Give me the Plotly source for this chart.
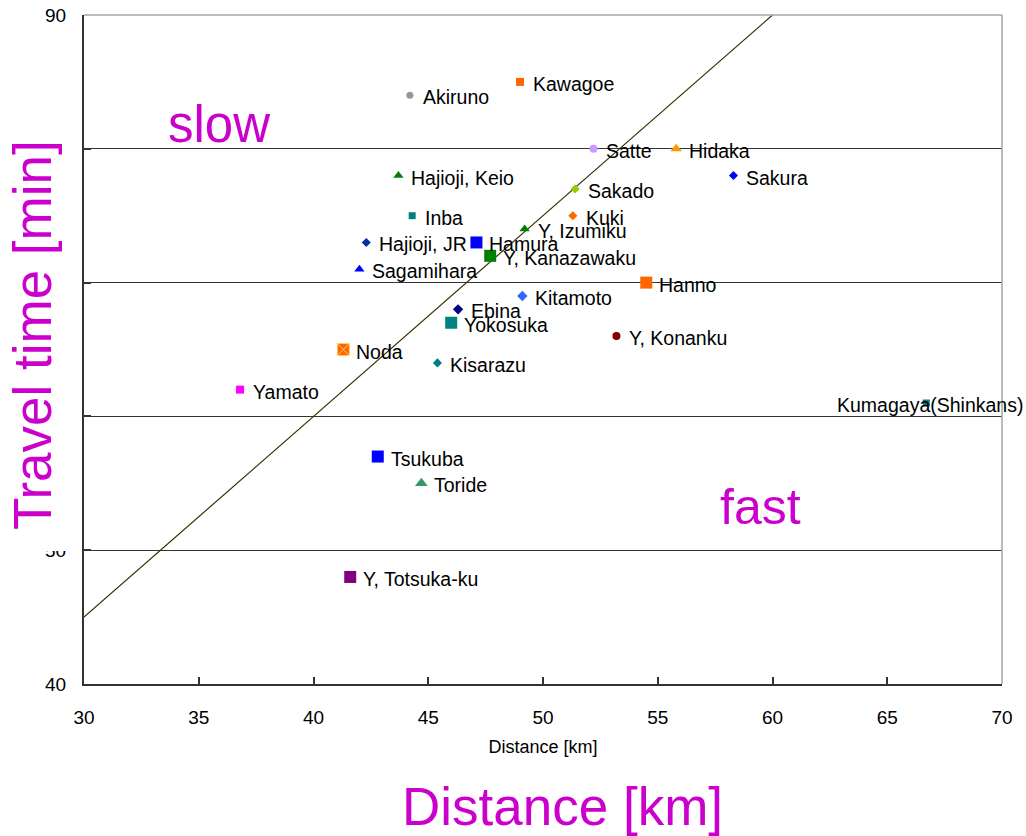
import plotly.graph_objects as go

# ---- data ----
names = ["Akiruno", "Kawagoe", "Satte", "Hidaka", "Sakura", "Hajioji, Keio",
         "Sakado", "Inba", "Kuki", "Y, Izumiku", "Hajioji, JR", "Hamura",
         "Y, Kanazawaku", "Sagamihara", "Hanno", "Kitamoto", "Ebina", "Yokosuka",
         "Y, Konanku", "Noda", "Kisarazu", "Yamato", "Kumagaya(Shinkans)",
         "Tsukuba", "Toride", "Y, Totsuka-ku"]
distance_km = [44.2, 49.0, 52.2, 55.8, 58.3, 43.7,
               51.4, 44.3, 51.3, 49.2, 42.3, 47.1,
               47.7, 42.0, 54.5, 49.1, 46.3, 46.0,
               53.2, 41.3, 45.4, 36.8, 66.7,
               42.8, 44.7, 41.6]
travel_min = [84, 85, 80, 80, 78, 78,
              77, 75, 75, 74, 73, 73,
              72, 71, 70, 69, 68, 67,
              66, 65, 64, 62, 61,
              57, 55, 48]

x_ticks = [30, 35, 40, 45, 50, 55, 60, 65, 70]
y_ticks = [40, 50, 60, 70, 80, 90]

# reference line: 1.5 min per km (90 km/h)
ref_slope = 1.5
ref_x = [30, 60]

# ---- styles ----
marker_symbols = ["circle", "square", "circle", "triangle-up", "diamond", "triangle-up",
                  "diamond", "square", "diamond", "triangle-up", "diamond", "square",
                  "square", "triangle-up", "square", "diamond", "diamond", "square",
                  "circle", "square-x", "diamond", "square", "square",
                  "square", "triangle-up", "square"]
marker_colors = ["#969696", "#FF6600", "#CC99FF", "#FF9900", "#0000FF", "#008000",
                 "#99CC00", "#008080", "#FF6600", "#008000", "#0033A0", "#0000FF",
                 "#008000", "#0000FF", "#FF6600", "#3366FF", "#000080", "#008080",
                 "#800000", "#FF6600", "#008080", "#FF00FF", "#008080",
                 "#0000FF", "#339966", "#800080"]
marker_sizes = [7, 8, 8, 10, 7, 9,
                7, 7, 7, 9, 7, 12,
                12, 9, 12, 8, 8, 12,
                8, 12, 7, 8, 7,
                12, 11, 12]

MAGENTA = "#CC00CC"
FONT = "Liberation Sans, Arial, sans-serif"
LABEL_SIZE = 19.5

fig = go.Figure()

fig.add_trace(go.Scatter(
    x=ref_x, y=[ref_slope * v for v in ref_x], mode="lines",
    line=dict(color="#333300", width=1.2), hoverinfo="skip"))

fig.add_trace(go.Scatter(
    x=distance_km, y=travel_min, mode="markers", text=names,
    marker=dict(symbol=marker_symbols, color=marker_colors, size=marker_sizes,
                opacity=1,
                line=dict(width=[1 if s == "square-x" else 0 for s in marker_symbols],
                          color="#FFCC66"))))

annotations = []
for n, x, y in zip(names, distance_km, travel_min):
    if n.startswith("Kumagaya"):
        annotations.append(dict(x=x, y=y, text=n, showarrow=False, xanchor="center",
                                yanchor="middle", xshift=4, yshift=-2,
                                font=dict(size=LABEL_SIZE, color="black")))
    else:
        annotations.append(dict(x=x, y=y, text=n, showarrow=False, xanchor="left",
                                yanchor="middle", xshift=11, yshift=-2,
                                font=dict(size=LABEL_SIZE, color="black")))

# big decorative texts
annotations += [
    dict(xref="paper", yref="paper", x=0.1476, y=0.836, text="slow", showarrow=False,
         xanchor="center", yanchor="middle", font=dict(size=51, color=MAGENTA)),
    dict(xref="paper", yref="paper", x=0.7364, y=0.2646, text="fast", showarrow=False,
         xanchor="center", yanchor="middle", font=dict(size=50, color=MAGENTA)),
    dict(xref="paper", yref="paper", x=0.5212, y=-0.1824, text="Distance [km]",
         showarrow=False, xanchor="center", yanchor="middle",
         font=dict(size=53, color=MAGENTA)),
    dict(xref="paper", yref="paper", x=-0.0561, y=0.5209, text="Travel time [min]",
         showarrow=False, xanchor="center", yanchor="middle", textangle=-90,
         font=dict(size=53, color=MAGENTA)),
]

shapes = [
    # plot-area frame (top & right)
    dict(type="line", xref="paper", yref="paper", x0=0, x1=1, y0=1, y1=1,
         line=dict(color="#A6A6A6", width=1.5), layer="above"),
    dict(type="line", xref="paper", yref="paper", x0=1, x1=1, y0=0, y1=1,
         line=dict(color="#A6A6A6", width=1.5), layer="above"),
    # white box behind the vertical title
    dict(type="rect", xref="paper", yref="paper", x0=-0.0915, x1=-0.0087,
         y0=0.1988, y1=0.831, fillcolor="white", line=dict(width=0), layer="above"),
]

fig.update_layout(
    width=1026, height=836,
    margin=dict(l=84, r=24, t=15, b=152, autoexpand=False),
    plot_bgcolor="white", paper_bgcolor="white",
    showlegend=False, hovermode=False,
    font=dict(family=FONT, size=19, color="black"),
    annotations=annotations, shapes=shapes,
    xaxis=dict(range=[30, 70], tickvals=x_ticks, showgrid=False, zeroline=False,
               automargin=False,
               showline=True, linecolor="#333333", linewidth=2,
               ticks="inside", ticklen=7, tickwidth=1.5, tickcolor="#333333",
               ticklabelstandoff=15,
               tickfont=dict(size=19, color="black"),
               title=dict(text="Distance [km]", font=dict(size=18, color="black"),
                          standoff=14)),
    yaxis=dict(range=[40, 90], tickvals=y_ticks, showgrid=True, gridcolor="#333333",
               gridwidth=1.2, zeroline=False, automargin=False,
               showline=True, linecolor="#333333", linewidth=2,
               ticks="inside", ticklen=7, tickwidth=1.5, tickcolor="#333333",
               ticklabelstandoff=12,
               tickfont=dict(size=19, color="black")),
)

fig.write_html("out.html", config={"displayModeBar": False},
               post_script="document.body.style.margin='0';document.body.style.overflow='hidden';")
